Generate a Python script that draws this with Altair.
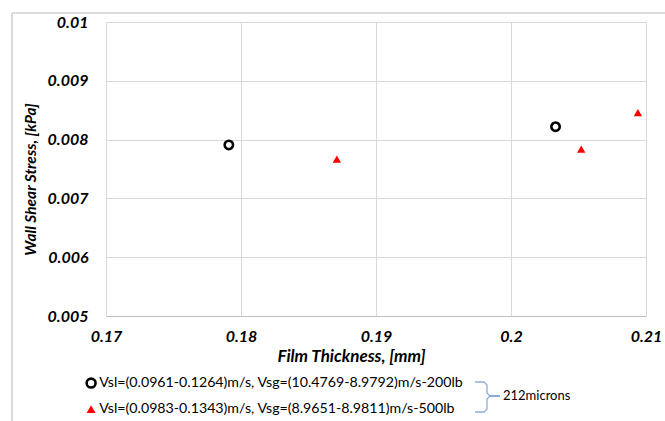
import altair as alt
import pandas as pd

label_200 = "Vsl=(0.0961-0.1264)m/s, Vsg=(10.4769-8.9792)m/s-200lb"
label_500 = "Vsl=(0.0983-0.1343)m/s, Vsg=(8.9651-8.9811)m/s-500lb"
group_label = "212microns"

film_200 = [0.1791, 0.2033]
shear_200 = [0.00791, 0.00822]
film_500 = [0.1871, 0.2052, 0.2094]
shear_500 = [0.00767, 0.00784, 0.00846]

x_ticks = [0.17, 0.18, 0.19, 0.20, 0.21]
y_ticks = [0.005, 0.006, 0.007, 0.008, 0.009, 0.010]

df = pd.DataFrame({
    "film": film_200 + film_500,
    "shear": shear_200 + shear_500,
    "series": [label_200] * len(film_200) + [label_500] * len(film_500),
})

FONT = "Lato"
domain = [label_200, label_500]

leg = dict(title=None, orient="none", legendX=-22, legendY=354, direction="vertical",
           labelFont=FONT, labelFontSize=14.2, labelColor="black", labelLimit=0,
           labelOffset=1, symbolSize=80, symbolStrokeWidth=2.2, rowPadding=9, padding=0)

points = alt.Chart(df).mark_point(opacity=1, size=70).encode(
    x=alt.X("film:Q",
            scale=alt.Scale(domain=[0.17, 0.21], nice=False, zero=False),
            axis=alt.Axis(values=x_ticks, format=".2~f", title="Film Thickness, [mm]",
                          grid=True, gridColor="#d9d9d9", domainColor="#bfbfbf",
                          ticks=False, labelPadding=12, labelFlush=False,
                          labelFont=FONT, labelFontSize=16, labelFontWeight="bold",
                          labelFontStyle="italic", labelColor="black",
                          titleFont=FONT, titleFontSize=17, titleFontWeight="bold",
                          titleFontStyle="italic", titleColor="black",
                          titleX=245, titleY=40, titleAlign="center", titleBaseline="middle")),
    y=alt.Y("shear:Q",
            scale=alt.Scale(domain=[0.005, 0.010], nice=False, zero=False),
            axis=alt.Axis(values=y_ticks, format=".3~f", title="Wall Shear Stress, [kPa]",
                          grid=True, gridColor="#d9d9d9", domain=False,
                          ticks=False, labelPadding=18, labelFlush=False,
                          labelFont=FONT, labelFontSize=16, labelFontWeight="bold",
                          labelFontStyle="italic", labelColor="black",
                          titleFont=FONT, titleFontSize=15.5, titleFontWeight="bold",
                          titleFontStyle="italic", titleColor="black",
                          titleX=-76, titleY=157, titleAngle=-90,
                          titleAlign="center", titleBaseline="middle")),
    shape=alt.Shape("series:N", scale=alt.Scale(domain=domain, range=["circle", "triangle-up"]),
                    legend=alt.Legend(**leg)),
    stroke=alt.Stroke("series:N", scale=alt.Scale(domain=domain, range=["black", "red"]),
                      legend=alt.Legend(**leg)),
    fill=alt.Fill("series:N", scale=alt.Scale(domain=domain, range=["white", "red"]),
                  legend=alt.Legend(**leg)),
    strokeWidth=alt.StrokeWidth("series:N",
                                scale=alt.Scale(type="point", padding=0, domain=domain, range=[2.6, 0]),
                                legend=alt.Legend(**leg)),
)

border = alt.Chart(df).mark_rect(fill=None, stroke="#d9d9d9", strokeWidth=1).encode(
    x=alt.value(-94), x2=alt.value(700), y=alt.value(-9), y2=alt.value(450)
)

# decorative curly brace grouping the two legend entries (pixel path)
brace_df = pd.DataFrame({
    "px": [369, 378, 381, 381, 384, 381, 381, 378, 369],
    "py": [360, 360, 363, 371, 374, 377, 387, 390, 390],
    "o": list(range(9)),
})
brace = alt.Chart(brace_df).mark_line(color="#8eaadb", strokeWidth=1.3).encode(
    x=alt.X("px:Q", scale=None), y=alt.Y("py:Q", scale=None), order="o:Q"
)
brace_tip = alt.Chart(brace_df).mark_rule(color="#8eaadb", strokeWidth=1.3).encode(
    x=alt.value(384), x2=alt.value(394), y=alt.value(374)
)

microns = alt.Chart(pd.DataFrame({"t": [group_label]})).mark_text(
    font=FONT, fontSize=13, fontWeight="normal",
    color="black", align="left", baseline="middle").encode(
    text="t:N", x=alt.value(397), y=alt.value(374)
)

chart = alt.layer(border, points, brace, brace_tip, microns).properties(
    width=540, height=294,
    autosize=alt.AutoSizeParams(type="none"),
    padding={"left": 106, "top": 22, "right": 19, "bottom": 105},
).configure_view(stroke=None).configure(background="white")

chart.save("out.html", embed_options={"renderer": "svg", "actions": False})
